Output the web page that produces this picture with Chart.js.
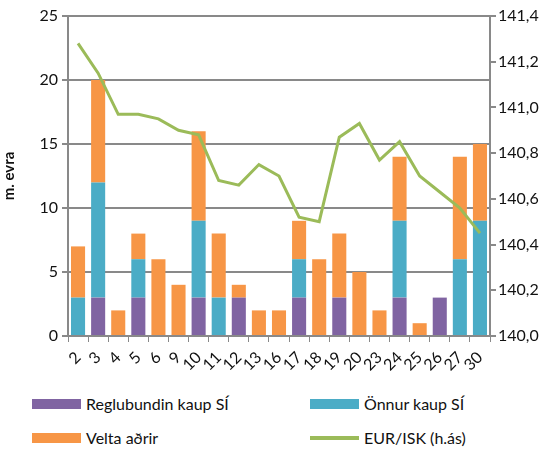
<!DOCTYPE html>
<html>
<head>
<meta charset="utf-8">
<script src="https://cdn.jsdelivr.net/npm/chart.js@4"></script>
<style>
  body { margin: 0; background: #fff; }
  #wrap { position: relative; width: 553px; height: 451px; font-family: Lato, "Open Sans", sans-serif; }
  #chart { position: absolute; left: 0; top: 0; }
  .leg { position: absolute; font-size: 16px; color: #111; line-height: 20px; }
  .sw { position: absolute; width: 49px; height: 10px; }
</style>
</head>
<body>
<div id="wrap">
  <canvas id="chart" width="553" height="385"></canvas>
  <div class="sw" style="left:32px; top:399px; background:#8064a2"></div>
  <div class="leg" style="left:86px; top:394px">Reglubundin kaup SÍ</div>
  <div class="sw" style="left:310px; top:399px; background:#4bacc6"></div>
  <div class="leg" style="left:364px; top:394px">Önnur kaup SÍ</div>
  <div class="sw" style="left:32px; top:433px; background:#f79646"></div>
  <div class="leg" style="left:86px; top:428px">Velta aðrir</div>
  <div class="sw" style="left:310px; top:436px; height:4px; background:#9bbb59"></div>
  <div class="leg" style="left:364px; top:428px">EUR/ISK (h.ás)</div>
</div>
<script>
// days of the month
const days = ['2', '3', '4', '5', '6', '9', '10', '11', '12', '13', '16', '17', '18', '19', '20', '23', '24', '25', '26', '27', '30'];

// m. evra
const reglubundin = [0, 3, 0, 3, 0, 0, 3, 0, 3, 0, 0, 3, 0, 3, 0, 0, 3, 0, 3, 0, 0];
const onnur = [3, 9, 0, 3, 0, 0, 6, 3, 0, 0, 0, 3, 0, 0, 0, 0, 6, 0, 0, 6, 9];
const velta = [4, 8, 2, 2, 6, 4, 7, 5, 1, 2, 2, 3, 6, 5, 5, 2, 5, 1, 0, 8, 6];

// EUR/ISK, right axis
const eurisk = [141.28, 141.15, 140.97, 140.97, 140.95, 140.90, 140.88, 140.68, 140.66, 140.75,
                140.70, 140.52, 140.50, 140.87, 140.93, 140.77, 140.85, 140.70, 140.63, 140.56, 140.45];

const gridColor = '#898989';
const tickFont = { family: 'Lato, "Open Sans", sans-serif', size: 16 };

new Chart(document.getElementById('chart'), {
    type: 'bar',
    data: {
        labels: days,
        datasets: [
            { label: 'Reglubundin kaup SÍ', data: reglubundin, backgroundColor: '#8064a2', stack: 's', order: 1 },
            { label: 'Önnur kaup SÍ', data: onnur, backgroundColor: '#4bacc6', stack: 's', order: 1 },
            { label: 'Velta aðrir', data: velta, backgroundColor: '#f79646', stack: 's', order: 1 },
            {
                type: 'line', label: 'EUR/ISK (h.ás)', data: eurisk, yAxisID: 'y1',
                borderColor: '#9bbb59', borderWidth: 3, pointRadius: 0, tension: 0, order: 0
            }
        ]
    },
    options: {
        responsive: false,
        animation: false,
        layout: { padding: { top: 16, left: 0, right: 0 } },
        datasets: { bar: { barPercentage: 0.7, categoryPercentage: 1 } },
        plugins: { legend: { display: false }, tooltip: { enabled: false } },
        scales: {
            x: {
                stacked: true,
                afterFit: (s) => { s.height = 49; },
                grid: { drawOnChartArea: false, drawTicks: true, tickLength: 6, color: gridColor, offset: true },
                border: { color: gridColor, width: 2 },
                ticks: { color: '#111', font: tickFont, minRotation: 45, maxRotation: 45, padding: 6, autoSkip: false }
            },
            y: {
                stacked: true,
                min: 0, max: 25,
                afterFit: (s) => { s.width = 68; },
                grid: { color: gridColor, lineWidth: 2, tickLength: 6 },
                border: { color: gridColor, width: 2 },
                title: { display: true, text: 'm. evra', color: '#111', font: { family: 'Lato, "Open Sans", sans-serif', size: 15, weight: 'bold' }, padding: 0 },
                ticks: { stepSize: 5, color: '#111', font: tickFont, padding: 4 }
            },
            y1: {
                position: 'right',
                min: 140, max: 141.4,
                afterFit: (s) => { s.width = 63; },
                grid: { drawOnChartArea: false, color: gridColor, lineWidth: 2, tickLength: 6 },
                border: { color: gridColor, width: 2 },
                ticks: {
                    stepSize: 0.2, color: '#111', font: tickFont, padding: 2,
                    callback: (v) => v.toFixed(1).replace('.', ',')
                }
            }
        }
    }
});
</script>
</body>
</html>
